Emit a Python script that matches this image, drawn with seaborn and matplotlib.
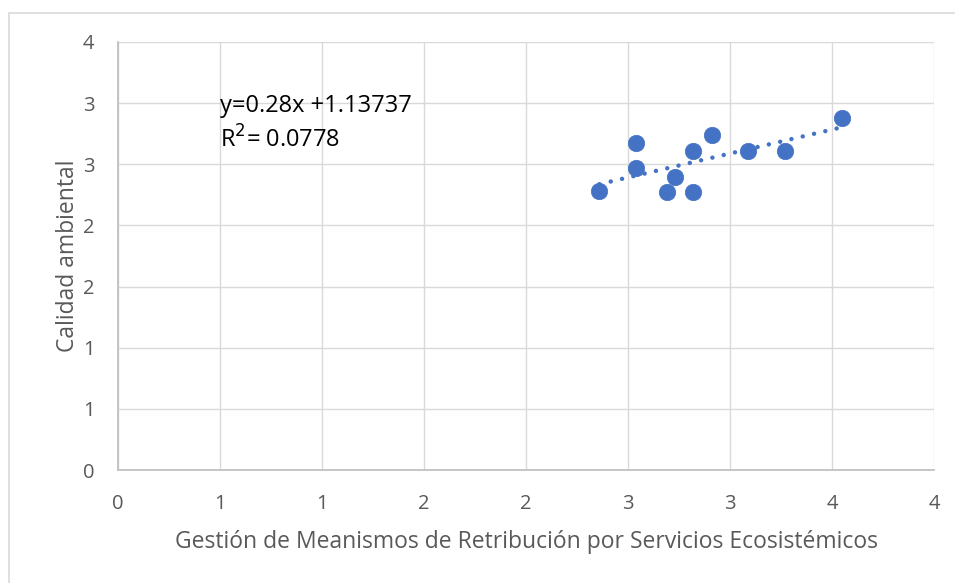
import numpy as np
import pandas as pd
import seaborn as sns
import matplotlib.pyplot as plt
from matplotlib.patches import Rectangle

sns.set_theme(style="white")
plt.rcParams['font.family'] = ['Open Sans', 'DejaVu Sans']
plt.rcParams['font.size'] = 12

# values
gestion = [2.36, 2.54, 2.54, 2.69, 2.73, 2.82, 2.82, 2.91, 3.09, 3.27, 3.55]
calidad = [2.28, 2.67, 2.47, 2.27, 2.40, 2.61, 2.27, 2.74, 2.61, 2.61, 2.88]
x_ticks = [0, 0.5, 1, 1.5, 2, 2.5, 3, 3.5, 4]
y_ticks = [0, 0.5, 1, 1.5, 2, 2.5, 3, 3.5]
equation = "y=0.28x +1.13737"
r2_text = "R$^{2}$= 0.0778"

df = pd.DataFrame({"x": gestion, "y": calidad})

fig = plt.figure(figsize=(9.55, 5.83), dpi=100)
ax = fig.add_axes([0.1236, 0.1938, 0.8544, 0.7342])

# chart-area frame, only left and top edges are visible in the picture
fig.patches.append(Rectangle((9 / 955, -0.1), 1.2, 0.1 + 570 / 583, transform=fig.transFigure,
                             fill=False, edgecolor="#d9d9d9", linewidth=1.2))

blue = "#4472C4"
sns.scatterplot(data=df, x="x", y="y", ax=ax, color=blue, s=140, edgecolor=blue,
                linewidth=0.5, zorder=3)

# linear trend line over the data range
k, b = np.polyfit(df["x"], df["y"], 1)
xs = np.array([df["x"].min(), df["x"].max()])
ax.plot(xs, k * xs + b, color=blue, linestyle=(0, (0.01, 2.6)), linewidth=3.2,
        dash_capstyle="round", zorder=2)

ax.set_xlim(0, 4)
ax.set_ylim(0, 3.5)
ax.set_xticks(x_ticks)
ax.set_yticks(y_ticks)
ax.set_xticklabels([str(int(np.floor(v + 0.5))) for v in x_ticks])
ax.set_yticklabels([str(int(np.floor(v + 0.5))) for v in y_ticks])
ax.grid(True, color="#d9d9d9", linewidth=1)
ax.set_axisbelow(True)
for side in ["top", "right"]:
    ax.spines[side].set_visible(False)
for side in ["left", "bottom"]:
    ax.spines[side].set_color("#bfbfbf")
ax.tick_params(axis="both", colors="#595959", labelsize=14.5, length=5, width=1,
               direction="out", color="#bfbfbf")
ax.tick_params(axis="x", pad=12)
ax.tick_params(axis="y", pad=12)

ax.set_xlabel("Gestión de Meanismos de Retribución por Servicios Ecosistémicos",
              fontsize=16.5, color="#595959", labelpad=12)
ax.set_ylabel("Calidad ambiental", fontsize=16.5, color="#595959", labelpad=2)

ax.text(0.5, 2.98, equation, fontsize=17, color="black", va="center", ha="left")
ax.text(0.5, 2.7, r2_text, fontsize=17, color="black", va="center", ha="left")

fig.savefig("out.png", dpi=100)
